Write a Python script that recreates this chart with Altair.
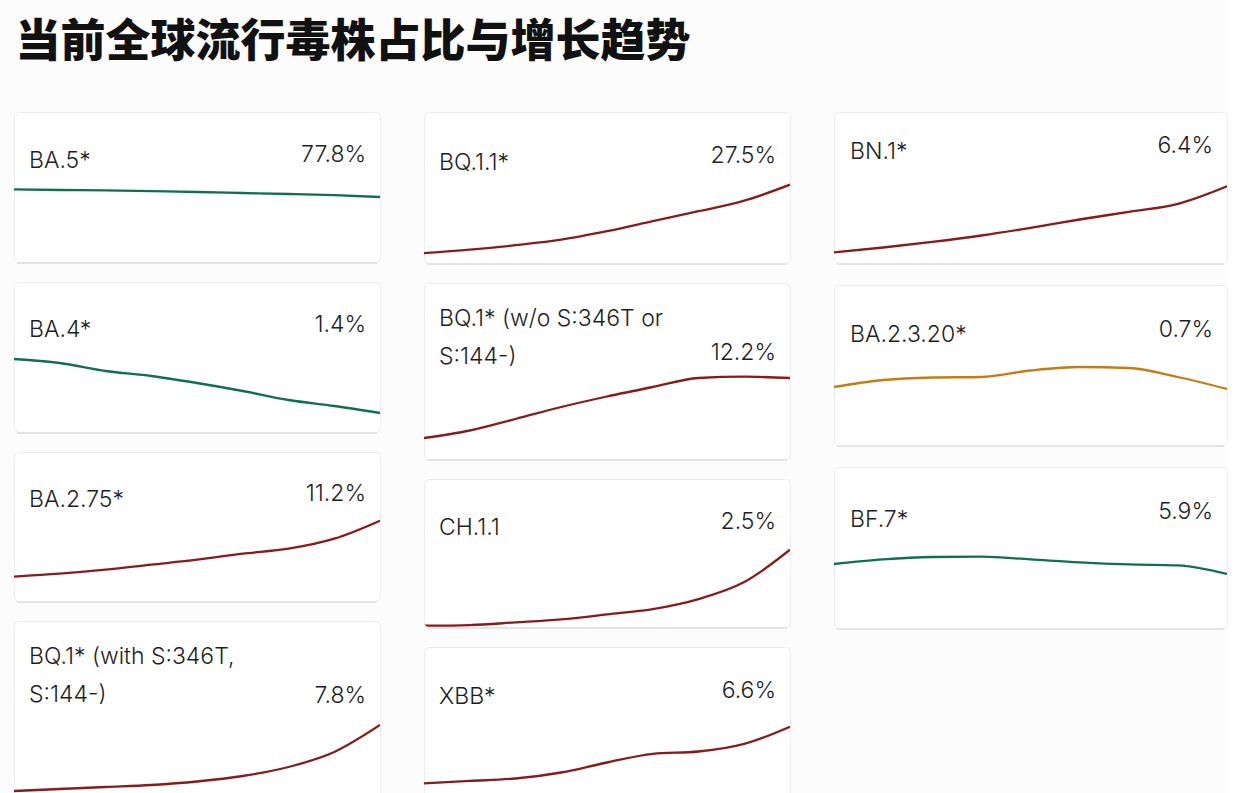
import altair as alt
import pandas as pd

# ---------------- data ----------------
WEEKS = [0, 1, 2, 3, 4, 5, 6, 7, 8]

LABELS_COL1 = ["BA.5*", "BA.4*", "BA.2.75*", "BQ.1* (with S:346T,\nS:144-)"]
PCTS_COL1 = ["77.8%", "1.4%", "11.2%", "7.8%"]
LABELS_COL2 = ["BQ.1.1*", "BQ.1* (w/o S:346T or\nS:144-)", "CH.1.1", "XBB*"]
PCTS_COL2 = ["27.5%", "12.2%", "2.5%", "6.6%"]
LABELS_COL3 = ["BN.1*", "BA.2.3.20*", "BF.7*"]
PCTS_COL3 = ["6.4%", "0.7%", "5.9%"]

BA5 = [81.6, 81.3, 81.1, 80.7, 80.3, 79.8, 79.3, 78.7, 77.8]
BA4 = [4.1, 3.9, 3.5, 3.25, 2.9, 2.5, 2.05, 1.75, 1.4]
BA275 = [5.6, 5.9, 6.3, 6.8, 7.3, 7.9, 8.4, 9.4, 11.2]
BQ1_WITH = [1.2, 1.4, 1.6, 1.8, 2.15, 2.7, 3.6, 5.1, 7.8]
BQ11 = [13.8, 14.5, 15.4, 16.5, 18.2, 20.2, 22.2, 24.3, 27.5]
BQ1_WO = [6.2, 6.95, 8.1, 9.3, 10.35, 11.3, 12.2, 12.33, 12.2]
CH11 = [0.22, 0.24, 0.32, 0.41, 0.56, 0.72, 1.02, 1.53, 2.5]
XBB = [3.77, 3.89, 4.01, 4.31, 4.81, 5.24, 5.36, 5.74, 6.6]
BN1 = [3.1, 3.34, 3.62, 3.94, 4.32, 4.74, 5.12, 5.52, 6.4]
BA2320 = [0.72, 0.79, 0.815, 0.82, 0.885, 0.92, 0.91, 0.82, 0.7]
BF7 = [6.4, 6.63, 6.75, 6.77, 6.63, 6.48, 6.38, 6.33, 5.9]

# ---------------- styles ----------------
RED = "#861c1c"
GREEN = "#106f53"
ORANGE = "#c47d16"
TEXT_FONT = "Inter"
TITLE_FONT = "Noto Sans CJK SC"


def card(label, pct, values, domain, w, h, color, label_y, pct_y,
         label_x=15, pct_pad=14):
    df = pd.DataFrame({"week": WEEKS, "share": values})
    line = alt.Chart(df).mark_line(
        interpolate="monotone", strokeWidth=2.3, color=color, clip=True
    ).encode(
        x=alt.X("week:Q", scale=alt.Scale(domain=[0, 8], nice=False, zero=False), axis=None),
        y=alt.Y("share:Q", scale=alt.Scale(domain=domain, nice=False, zero=False), axis=None),
    )
    info = alt.Chart(pd.DataFrame({"label": [label], "pct": [pct]}))
    lab = info.mark_text(
        align="left", baseline="alphabetic", fontSize=23, font=TEXT_FONT,
        fontWeight=300, color="#1e1e24", lineBreak="\n", lineHeight=38
    ).encode(x=alt.value(label_x), y=alt.value(label_y), text="label:N")
    pc = info.mark_text(
        align="right", baseline="alphabetic", fontSize=23, font=TEXT_FONT,
        fontWeight=300, color="#1e1e24"
    ).encode(x=alt.value(w - pct_pad), y=alt.value(pct_y), text="pct:N")
    shadow = info.mark_rule(color="#e4e4e6", strokeWidth=2).encode(
        x=alt.value(3), x2=alt.value(w - 3), y=alt.value(h + 1)
    )
    return alt.layer(shadow, line, lab, pc).properties(width=w, height=h)


W12 = 366
W3 = 393

col1 = alt.vconcat(
    card(LABELS_COL1[0], PCTS_COL1[0], BA5, [45.3, 120.3], W12, 150, GREEN, 56, 50),
    card(LABELS_COL1[1], PCTS_COL1[1], BA4, [0.45, 7.95], W12, 150, GREEN, 55, 50),
    card(LABELS_COL1[2], PCTS_COL1[2], BA275, [3.17, 18.07], W12, 149, RED, 55, 49),
    card(LABELS_COL1[3], PCTS_COL1[3], BQ1_WITH, [-0.8, 18.2], W12, 190, RED, 43, 82),
    spacing=16,
)

col2 = alt.vconcat(
    card(LABELS_COL2[0], PCTS_COL2[0], BQ11, [11.84, 42.04], W12, 151, RED, 58, 51),
    card(LABELS_COL2[1], PCTS_COL2[1], BQ1_WO, [4.1, 21.7], W12, 176, RED, 43, 77),
    card(LABELS_COL2[2], PCTS_COL2[2], CH11, [0.181, 4.621], W12, 148, RED, 56, 50),
    card(LABELS_COL2[3], PCTS_COL2[3], XBB, [2.335, 10.585], W12, 165, RED, 57, 51),
    spacing=16,
)

col3 = alt.vconcat(
    card(LABELS_COL3[0], PCTS_COL3[0], BN1, [2.565, 10.115], W3, 151, RED, 47, 41, 16, 14),
    card(LABELS_COL3[1], PCTS_COL3[1], BA2320, [0.14, 1.74], W3, 160, ORANGE, 57, 52, 16, 14),
    card(LABELS_COL3[2], PCTS_COL3[2], BF7, [3.2, 11.25], W3, 161, GREEN, 60, 52, 16, 14),
    spacing=18,
)

chart = alt.hconcat(col1, col2, col3, spacing=42).properties(
    title=alt.TitleParams(
        "当前全球流行毒株占比与增长趋势",
        anchor="start", fontSize=45, font=TITLE_FONT, fontWeight=900,
        color="#111111", offset=46, dx=2,
    ),
    padding={"left": 13, "top": 20, "right": 0, "bottom": 0},
    background="#fcfcfc",
).configure_view(
    stroke="#ececee", strokeWidth=1, fill="white", cornerRadius=5
)

chart.save("out.html", embed_options={"renderer": "svg", "actions": False})
